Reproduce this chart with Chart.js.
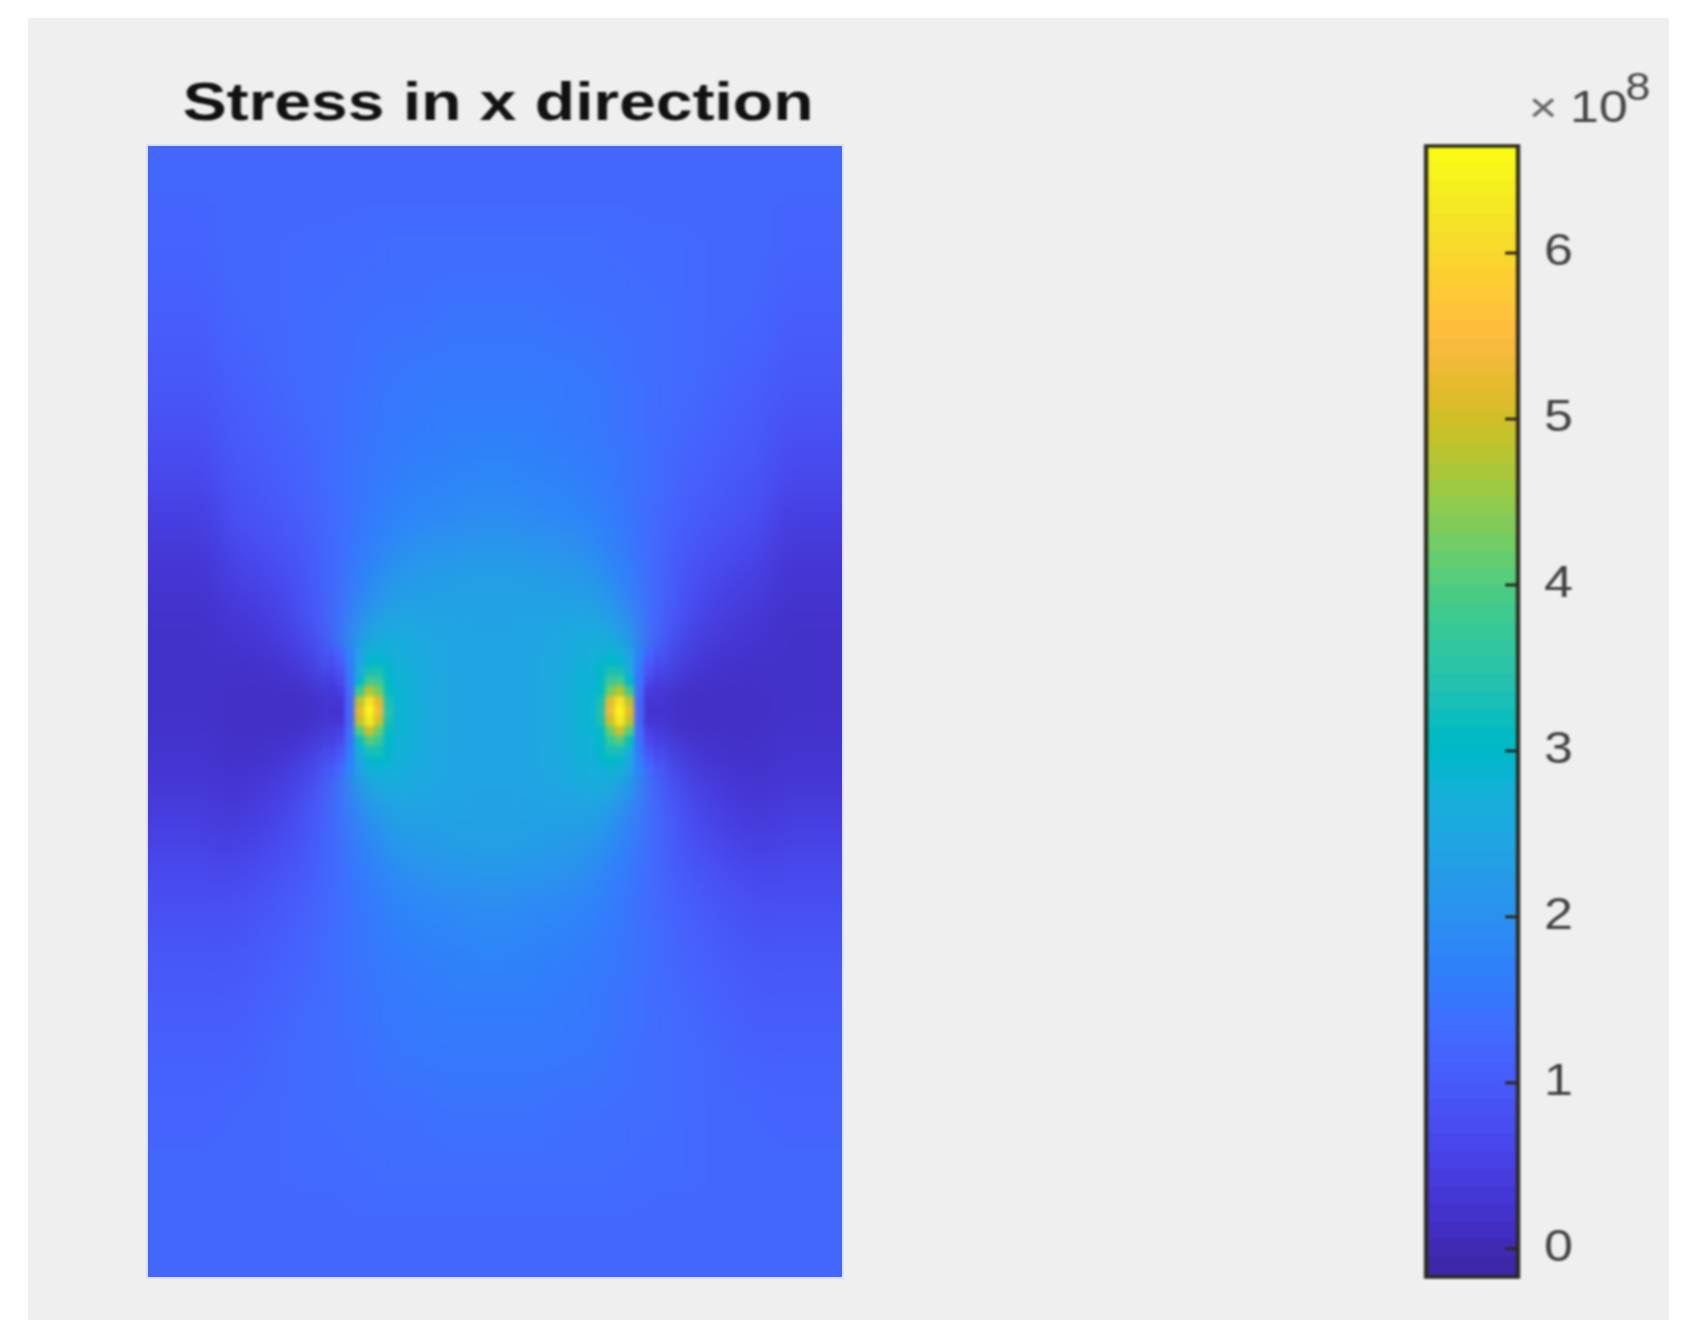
<!DOCTYPE html>
<html>
<head>
<meta charset="utf-8">
<title>Stress in x direction</title>
<script src="https://cdn.jsdelivr.net/npm/chart.js@4"></script>
<style>
  html, body { margin: 0; background: #fff; overflow: hidden; }
  #panel { position: absolute; left: 28px; top: 18px; width: 1641px; height: 1302px; background: #efefef; }
  #plot { position: absolute; left: 148px; top: 146px; width: 694px; height: 1131px; overflow: hidden;
          box-shadow: 0 0 0 2px #dbdff8; }
  #coarse { position: absolute; left: -40px; top: -40px; filter: blur(13px); }
  #fine { position: absolute; left: 0; top: 0; filter: blur(2.2px); }
  #titleChart { position: absolute; left: 148px; top: 74px; filter: blur(0.8px); transform: scaleX(1.245); }
  /* the source picture is stretched sideways, so the colorbar canvas is too */
  #bar { position: absolute; left: 1380px; top: 0; filter: blur(0.8px); transform: scaleX(1.18); transform-origin: left top; }
</style>
</head>
<body>
<div id="panel"></div>
<canvas id="titleChart" width="700" height="100"></canvas>
<div id="plot">
  <canvas id="coarse" width="774" height="1211"></canvas>
  <canvas id="fine" width="694" height="1131"></canvas>
</div>
<canvas id="bar" width="261" height="1340"></canvas>
<script>
// stress values in units of 1e8 (24 columns, 38 rows)
const stress = [
  [1.2,1.2,1.2,1.2,1.2,1.2,1.2,1.2,1.2,1.2,1.2,1.2,1.2,1.2,1.2,1.2,1.2,1.2,1.2,1.2,1.2,1.2,1.2,1.2],
  [1.2,1.2,1.2,1.2,1.2,1.2,1.2,1.2,1.2,1.25,1.25,1.25,1.25,1.25,1.25,1.2,1.2,1.2,1.2,1.2,1.2,1.2,1.2,1.2],
  [1.2,1.2,1.2,1.2,1.2,1.2,1.2,1.25,1.25,1.25,1.25,1.25,1.25,1.25,1.25,1.25,1.25,1.2,1.2,1.2,1.2,1.2,1.2,1.2],
  [1.15,1.2,1.2,1.2,1.2,1.25,1.25,1.25,1.3,1.3,1.3,1.3,1.3,1.3,1.3,1.3,1.25,1.25,1.25,1.2,1.2,1.2,1.2,1.15],
  [1.15,1.15,1.2,1.2,1.2,1.25,1.25,1.3,1.3,1.3,1.35,1.35,1.35,1.35,1.3,1.3,1.3,1.25,1.25,1.2,1.2,1.2,1.15,1.15],
  [1.1,1.15,1.15,1.2,1.2,1.25,1.3,1.3,1.35,1.35,1.4,1.4,1.4,1.4,1.35,1.35,1.3,1.3,1.25,1.2,1.2,1.15,1.15,1.1],
  [1.05,1.1,1.15,1.15,1.2,1.25,1.3,1.35,1.4,1.4,1.45,1.45,1.45,1.45,1.4,1.4,1.35,1.3,1.25,1.2,1.15,1.15,1.1,1.05],
  [1.0,1.05,1.05,1.1,1.2,1.25,1.3,1.35,1.45,1.5,1.5,1.5,1.5,1.5,1.5,1.45,1.35,1.3,1.25,1.2,1.1,1.05,1.05,1.0],
  [0.95,1.0,1.0,1.05,1.15,1.25,1.3,1.4,1.5,1.5,1.55,1.55,1.55,1.55,1.5,1.5,1.4,1.3,1.25,1.15,1.05,1.0,1.0,0.95],
  [0.9,0.9,0.95,1.0,1.1,1.2,1.3,1.4,1.5,1.55,1.6,1.6,1.6,1.6,1.55,1.5,1.4,1.3,1.2,1.1,1.0,0.95,0.9,0.9],
  [0.8,0.85,0.9,0.95,1.05,1.15,1.3,1.45,1.55,1.6,1.65,1.7,1.7,1.65,1.6,1.55,1.45,1.3,1.15,1.05,0.95,0.9,0.85,0.8],
  [0.7,0.75,0.8,0.85,1.0,1.1,1.3,1.45,1.6,1.7,1.75,1.8,1.8,1.75,1.7,1.6,1.45,1.3,1.1,1.0,0.85,0.8,0.75,0.7],
  [0.6,0.65,0.7,0.8,0.9,1.05,1.25,1.5,1.7,1.8,1.85,1.9,1.9,1.85,1.8,1.7,1.5,1.25,1.05,0.9,0.8,0.7,0.65,0.6],
  [0.45,0.5,0.55,0.65,0.8,0.95,1.25,1.55,1.85,2.0,2.05,2.1,2.1,2.05,2.0,1.85,1.55,1.25,0.95,0.8,0.65,0.55,0.5,0.45],
  [0.35,0.35,0.4,0.5,0.65,0.85,1.25,1.7,2.1,2.2,2.25,2.3,2.3,2.25,2.2,2.1,1.7,1.25,0.85,0.65,0.5,0.4,0.35,0.35],
  [0.25,0.25,0.3,0.35,0.5,0.8,1.25,1.9,2.35,2.35,2.35,2.35,2.35,2.35,2.35,2.35,1.9,1.25,0.8,0.5,0.35,0.3,0.25,0.25],
  [0.2,0.2,0.2,0.25,0.35,0.6,1.2,2.4,2.65,2.5,2.45,2.4,2.4,2.45,2.5,2.65,2.4,1.2,0.6,0.35,0.25,0.2,0.2,0.2],
  [0.15,0.15,0.15,0.15,0.2,0.35,0.9,3.0,2.85,2.55,2.45,2.4,2.4,2.45,2.55,2.85,3.0,0.9,0.35,0.2,0.15,0.15,0.15,0.15],
  [0.15,0.1,0.1,0.1,0.1,0.1,0.3,3.2,3.0,2.6,2.45,2.4,2.4,2.45,2.6,3.0,3.2,0.3,0.1,0.1,0.1,0.1,0.1,0.15],
  [0.15,0.1,0.1,0.1,0.1,0.1,0.3,3.2,3.0,2.6,2.45,2.4,2.4,2.45,2.6,3.0,3.2,0.3,0.1,0.1,0.1,0.1,0.1,0.15],
  [0.15,0.15,0.15,0.15,0.2,0.35,0.9,3.0,2.85,2.55,2.45,2.4,2.4,2.45,2.55,2.85,3.0,0.9,0.35,0.2,0.15,0.15,0.15,0.15],
  [0.2,0.2,0.2,0.25,0.35,0.6,1.2,2.4,2.65,2.5,2.45,2.4,2.4,2.45,2.5,2.65,2.4,1.2,0.6,0.35,0.25,0.2,0.2,0.2],
  [0.25,0.25,0.3,0.35,0.5,0.8,1.25,1.9,2.35,2.35,2.35,2.35,2.35,2.35,2.35,2.35,1.9,1.25,0.8,0.5,0.35,0.3,0.25,0.25],
  [0.35,0.35,0.4,0.5,0.65,0.85,1.25,1.7,2.1,2.2,2.25,2.3,2.3,2.25,2.2,2.1,1.7,1.25,0.85,0.65,0.5,0.4,0.35,0.35],
  [0.45,0.5,0.55,0.65,0.8,0.95,1.25,1.55,1.85,2.0,2.05,2.1,2.1,2.05,2.0,1.85,1.55,1.25,0.95,0.8,0.65,0.55,0.5,0.45],
  [0.6,0.65,0.7,0.8,0.9,1.05,1.25,1.5,1.7,1.8,1.85,1.9,1.9,1.85,1.8,1.7,1.5,1.25,1.05,0.9,0.8,0.7,0.65,0.6],
  [0.7,0.75,0.8,0.85,1.0,1.1,1.3,1.45,1.6,1.7,1.75,1.8,1.8,1.75,1.7,1.6,1.45,1.3,1.1,1.0,0.85,0.8,0.75,0.7],
  [0.8,0.85,0.9,0.95,1.05,1.15,1.3,1.45,1.55,1.6,1.65,1.7,1.7,1.65,1.6,1.55,1.45,1.3,1.15,1.05,0.95,0.9,0.85,0.8],
  [0.9,0.9,0.95,1.0,1.1,1.2,1.3,1.4,1.5,1.55,1.6,1.6,1.6,1.6,1.55,1.5,1.4,1.3,1.2,1.1,1.0,0.95,0.9,0.9],
  [0.95,1.0,1.0,1.05,1.15,1.25,1.3,1.4,1.5,1.5,1.55,1.55,1.55,1.55,1.5,1.5,1.4,1.3,1.25,1.15,1.05,1.0,1.0,0.95],
  [1.0,1.05,1.05,1.1,1.2,1.25,1.3,1.35,1.45,1.5,1.5,1.5,1.5,1.5,1.5,1.45,1.35,1.3,1.25,1.2,1.1,1.05,1.05,1.0],
  [1.05,1.1,1.15,1.15,1.2,1.25,1.3,1.35,1.4,1.4,1.45,1.45,1.45,1.45,1.4,1.4,1.35,1.3,1.25,1.2,1.15,1.15,1.1,1.05],
  [1.1,1.15,1.15,1.2,1.2,1.25,1.3,1.3,1.35,1.35,1.4,1.4,1.4,1.4,1.35,1.35,1.3,1.3,1.25,1.2,1.2,1.15,1.15,1.1],
  [1.15,1.15,1.2,1.2,1.2,1.25,1.25,1.3,1.3,1.3,1.35,1.35,1.35,1.35,1.3,1.3,1.3,1.25,1.25,1.2,1.2,1.2,1.15,1.15],
  [1.15,1.2,1.2,1.2,1.2,1.25,1.25,1.25,1.3,1.3,1.3,1.3,1.3,1.3,1.3,1.3,1.25,1.25,1.25,1.2,1.2,1.2,1.2,1.15],
  [1.2,1.2,1.2,1.2,1.2,1.2,1.2,1.25,1.25,1.25,1.25,1.25,1.25,1.25,1.25,1.25,1.25,1.2,1.2,1.2,1.2,1.2,1.2,1.2],
  [1.2,1.2,1.2,1.2,1.2,1.2,1.2,1.2,1.2,1.25,1.25,1.25,1.25,1.25,1.25,1.2,1.2,1.2,1.2,1.2,1.2,1.2,1.2,1.2],
  [1.2,1.2,1.2,1.2,1.2,1.2,1.2,1.2,1.2,1.2,1.2,1.2,1.2,1.2,1.2,1.2,1.2,1.2,1.2,1.2,1.2,1.2,1.2,1.2]
];

// finer samples round the two hot spots, positions in the same column/row units
const tipRows = [17, 17.33, 17.67, 18, 18.33, 18.67, 19, 19.33, 19.67, 20, 20.33, 20.67, 21];
const leftTipCols = [6.33, 6.67, 7, 7.33, 7.67, 8, 8.33, 8.67];
const rightTipCols = [15.33, 15.67, 16, 16.33, 16.67, 17, 17.33, 17.67];
const leftTip = [
  [0.9,1.2,1.7,2.3,2.7,2.75,2.7,2.65],
  [0.7,1.0,1.6,2.4,2.9,3.0,2.85,2.7],
  [0.55,0.8,1.5,2.6,3.3,3.35,2.95,2.75],
  [0.4,0.6,1.4,2.9,3.9,3.8,3.0,2.75],
  [0.3,0.4,1.3,3.8,4.8,4.3,3.1,2.8],
  [0.25,0.25,1.2,4.8,6.2,5.2,3.3,2.8],
  [0.2,0.2,1.2,5.2,6.6,5.4,3.4,2.8],
  [0.25,0.25,1.2,4.9,6.3,5.0,3.3,2.8],
  [0.35,0.45,1.3,4.0,5.0,4.2,3.1,2.8],
  [0.45,0.65,1.4,3.2,4.0,3.7,3.0,2.75],
  [0.6,0.85,1.5,2.7,3.3,3.3,2.95,2.75],
  [0.75,1.05,1.65,2.45,2.9,3.0,2.85,2.7],
  [0.95,1.25,1.75,2.3,2.7,2.75,2.7,2.65]
];
const rightTip = [
  [2.65,2.7,2.75,2.7,2.3,1.7,1.2,0.9],
  [2.7,2.85,3.0,2.9,2.4,1.6,1.0,0.7],
  [2.75,2.95,3.35,3.3,2.6,1.5,0.8,0.55],
  [2.75,3.0,3.8,3.9,2.9,1.4,0.6,0.4],
  [2.8,3.1,4.3,4.8,3.8,1.3,0.4,0.3],
  [2.8,3.3,5.2,6.2,4.8,1.2,0.25,0.25],
  [2.8,3.4,5.4,6.6,5.2,1.2,0.2,0.2],
  [2.8,3.3,5.0,6.3,4.9,1.2,0.25,0.25],
  [2.8,3.1,4.2,5.0,4.0,1.3,0.45,0.35],
  [2.75,3.0,3.7,4.0,3.2,1.4,0.65,0.45],
  [2.75,2.95,3.3,3.3,2.7,1.5,0.85,0.6],
  [2.7,2.85,3.0,2.9,2.45,1.65,1.05,0.75],
  [2.65,2.7,2.75,2.7,2.3,1.75,1.25,0.95]
];

const cbMin = -0.17;
const cbMax = 6.645;
const cbTicks = [0, 1, 2, 3, 4, 5, 6];
const titleText = 'Stress in x direction';

const parula = [
  [0.2422,0.1504,0.6603],[0.2504,0.1650,0.7076],[0.2578,0.1818,0.7511],[0.2647,0.1978,0.7952],
  [0.2706,0.2147,0.8364],[0.2751,0.2342,0.8710],[0.2783,0.2559,0.8991],[0.2803,0.2782,0.9221],
  [0.2813,0.3006,0.9414],[0.2810,0.3228,0.9579],[0.2795,0.3447,0.9717],[0.2760,0.3667,0.9829],
  [0.2699,0.3892,0.9906],[0.2602,0.4123,0.9952],[0.2440,0.4358,0.9988],[0.2206,0.4603,0.9973],
  [0.1963,0.4847,0.9892],[0.1834,0.5074,0.9798],[0.1786,0.5289,0.9682],[0.1764,0.5499,0.9520],
  [0.1687,0.5703,0.9359],[0.1540,0.5902,0.9218],[0.1460,0.6091,0.9079],[0.1380,0.6276,0.8973],
  [0.1248,0.6459,0.8883],[0.1113,0.6635,0.8763],[0.0952,0.6798,0.8598],[0.0689,0.6948,0.8394],
  [0.0297,0.7082,0.8163],[0.0036,0.7203,0.7917],[0.0067,0.7312,0.7660],[0.0433,0.7411,0.7394],
  [0.0964,0.7500,0.7120],[0.1408,0.7584,0.6842],[0.1717,0.7670,0.6554],[0.1938,0.7758,0.6251],
  [0.2161,0.7843,0.5923],[0.2470,0.7918,0.5567],[0.2906,0.7973,0.5188],[0.3406,0.8008,0.4789],
  [0.3909,0.8029,0.4354],[0.4456,0.8024,0.3909],[0.5044,0.7993,0.3480],[0.5616,0.7942,0.3045],
  [0.6174,0.7876,0.2612],[0.6720,0.7793,0.2227],[0.7242,0.7698,0.1910],[0.7738,0.7598,0.1646],
  [0.8203,0.7498,0.1535],[0.8634,0.7406,0.1596],[0.9035,0.7330,0.1774],[0.9393,0.7288,0.2100],
  [0.9728,0.7298,0.2394],[0.9956,0.7434,0.2371],[0.9970,0.7659,0.2199],[0.9952,0.7893,0.2028],
  [0.9892,0.8136,0.1885],[0.9786,0.8386,0.1766],[0.9676,0.8639,0.1643],[0.9610,0.8890,0.1537],
  [0.9597,0.9135,0.1423],[0.9628,0.9373,0.1265],[0.9691,0.9606,0.1064],[0.9769,0.9839,0.0805]
];

function rgb(c) {
  return 'rgb(' + c.map(a => Math.round(a * 255)).join(',') + ')';
}

function stressColor(v) {
  const pos = Math.min(Math.max((v - cbMin) / (cbMax - cbMin), 0), 1) * (parula.length - 1);
  const lo = Math.floor(pos);
  const hi = Math.min(lo + 1, parula.length - 1);
  return rgb(parula[lo].map((a, k) => a + (parula[hi][k] - a) * (pos - lo)));
}

Chart.defaults.font.family = '"Liberation Sans", Arial, sans-serif';

const coarseCells = [];
stress.forEach((row, j) => row.forEach((v, i) => coarseCells.push({ x: i + 0.5, y: j + 0.5, v })));
// the outer ring is painted big first so the blur has colour to pull in at the plot edge
const rimCells = coarseCells.filter(c => c.x < 1 || c.x > 23 || c.y < 1 || c.y > 37);

function cellSet(cells, radius) {
  return {
    data: cells,
    pointStyle: 'rect',
    pointRadius: radius,
    pointBorderWidth: 0,
    pointBackgroundColor: cells.map(c => stressColor(c.v))
  };
}

function hiddenAxes(xMin, xMax, yMin, yMax) {
  return {
    x: { type: 'linear', min: xMin, max: xMax, display: false },
    y: { type: 'linear', min: yMin, max: yMax, reverse: true, display: false }
  };
}

const plainOptions = {
  responsive: false,
  animation: false,
  devicePixelRatio: 1,
  layout: { padding: 0, autoPadding: false },
  plugins: { legend: { display: false }, tooltip: { enabled: false } }
};

new Chart(document.getElementById('coarse'), {
  type: 'scatter',
  data: { datasets: [cellSet(rimCells, 78), cellSet(coarseCells, 22.5)] },
  options: { ...plainOptions, scales: hiddenAxes(-40 / 28.92, 24 + 40 / 28.92, -40 / 29.76, 38 + 40 / 29.76) }
});

function tipCells(cols, values) {
  const cells = [];
  values.forEach((row, j) => row.forEach((v, i) => cells.push({ x: cols[i], y: tipRows[j], v })));
  return cells;
}

new Chart(document.getElementById('fine'), {
  type: 'scatter',
  data: { datasets: [cellSet(tipCells(leftTipCols, leftTip), 7.6), cellSet(tipCells(rightTipCols, rightTip), 7.6)] },
  options: { ...plainOptions, scales: hiddenAxes(0, 24, 0, 38) }
});

new Chart(document.getElementById('titleChart'), {
  type: 'scatter',
  data: { datasets: [] },
  options: {
    ...plainOptions,
    scales: { x: { display: false }, y: { display: false } },
    plugins: {
      ...plainOptions.plugins,
      title: {
        display: true,
        text: titleText,
        color: '#111',
        font: { size: 53, weight: 'bold' },
        padding: { top: 0, bottom: 0 }
      }
    }
  }
});

// colorbar frame, inward ticks and the exponent label
const barDecor = {
  id: 'barDecor',
  afterDraw(chart) {
    const { ctx, chartArea: a, scales } = chart;
    ctx.save();
    ctx.strokeStyle = '#2b2a1e';
    ctx.lineWidth = 3.5;
    ctx.strokeRect(a.left, a.top, a.right - a.left, a.bottom - a.top);
    cbTicks.forEach(t => {
      const y = scales.y.getPixelForValue(t);
      ctx.lineWidth = 3;
      ctx.beginPath();
      ctx.moveTo(a.right - 11, y);
      ctx.lineTo(a.right, y);
      ctx.stroke();
    });
    ctx.fillStyle = '#666';
    ctx.font = '42px "Liberation Sans"';
    ctx.textBaseline = 'alphabetic';
    ctx.fillText('\u00d7', 126, 122);
    ctx.fillStyle = '#444';
    ctx.font = '44px "Liberation Sans"';
    ctx.fillText('10', 161, 122);
    ctx.font = '38px "Liberation Sans"';
    ctx.fillText('8', 208, 100);
    ctx.restore();
  }
};

new Chart(document.getElementById('bar'), {
  type: 'bar',
  data: {
    labels: [''],
    datasets: parula.map((c, i) => ({
      data: [[
        cbMin + (cbMax - cbMin) * i / parula.length,
        cbMin + (cbMax - cbMin) * (i + 1.1) / parula.length
      ]],
      backgroundColor: rgb(c),
      borderWidth: 0,
      grouped: false,
      barPercentage: 1,
      categoryPercentage: 1
    }))
  },
  options: {
    ...plainOptions,
    layout: { padding: { left: 39, top: 146, bottom: 63, right: 0 }, autoPadding: false },
    scales: {
      x: { display: false },
      y: {
        position: 'right',
        min: cbMin,
        max: cbMax,
        afterBuildTicks: s => { s.ticks = cbTicks.map(value => ({ value })); },
        afterFit: s => { s.width = 144; },
        grid: { display: false },
        border: { display: false },
        ticks: { color: '#404040', font: { size: 44 }, padding: 14 }
      }
    }
  },
  plugins: [barDecor]
});
</script>
</body>
</html>
